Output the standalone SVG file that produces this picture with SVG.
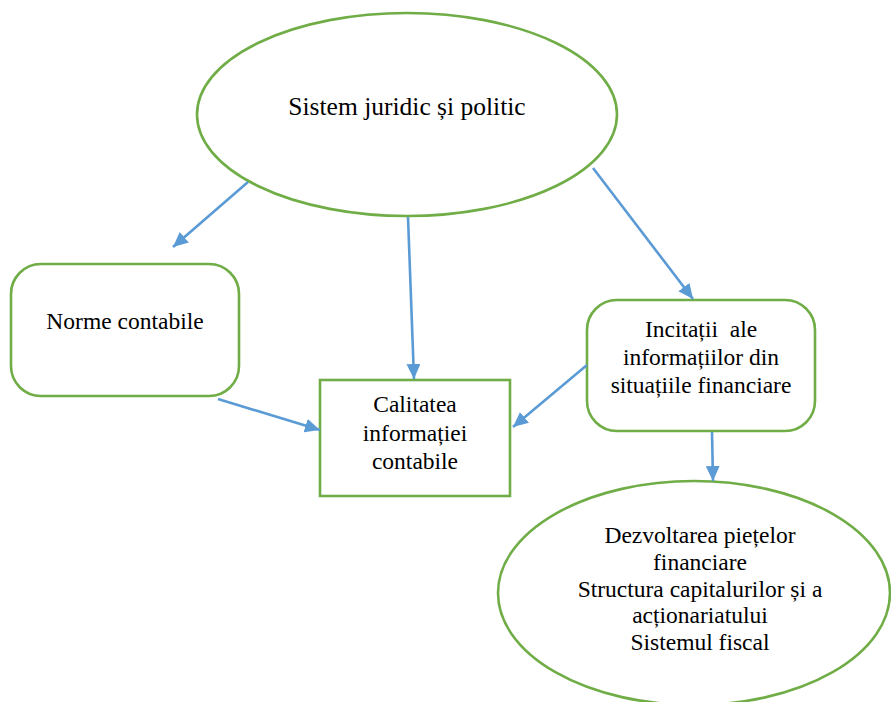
<svg xmlns="http://www.w3.org/2000/svg" width="891" height="702" viewBox="0 0 891 702">
<style>
.node{fill:#fff;stroke:#70AD47;stroke-width:2.6}
.lbl{font-family:"Liberation Serif","Times New Roman",serif;font-size:23.5px;fill:#000;text-anchor:middle}
.big{font-size:25.5px}
.conn{stroke:#5B9BD5;stroke-width:2.6;fill:none;marker-end:url(#ah)}
</style>
<defs>
<marker id="ah" markerUnits="userSpaceOnUse" markerWidth="16" markerHeight="14" refX="15" refY="7" orient="auto">
<path d="M0,0 L15,7 L0,14 Z" fill="#5B9BD5"/>
</marker>
</defs>
<rect width="891" height="702" fill="#fff"/>
<g id="n-sistem">
<ellipse class="node" cx="407" cy="114.5" rx="210" ry="101.5"/>
<text class="lbl big" x="407" y="115">Sistem juridic și politic</text>
</g>
<g id="n-norme">
<rect class="node" x="11" y="264" width="228" height="132" rx="30" ry="30"/>
<text class="lbl" x="125" y="329">Norme contabile</text>
</g>
<g id="n-calitatea">
<rect class="node" x="320" y="380" width="190" height="116"/>
<text class="lbl" x="415" y="412">Calitatea</text>
<text class="lbl" x="415" y="441">informației</text>
<text class="lbl" x="415" y="469">contabile</text>
</g>
<g id="n-incitatii">
<rect class="node" x="587" y="300" width="228" height="131" rx="30" ry="30"/>
<text class="lbl" x="701" y="337" xml:space="preserve">Incitații  ale</text>
<text class="lbl" x="701" y="365">informațiilor din</text>
<text class="lbl" x="701" y="393">situațiile financiare</text>
</g>
<g id="n-dezvoltarea">
<ellipse class="node" cx="694" cy="593" rx="196" ry="112"/>
<text class="lbl" x="700" y="543">Dezvoltarea piețelor</text>
<text class="lbl" x="700" y="570">financiare</text>
<text class="lbl" x="700" y="597">Structura capitalurilor și a</text>
<text class="lbl" x="700" y="623">acționariatului</text>
<text class="lbl" x="700" y="650">Sistemul fiscal</text>
</g>
<g id="connectors">
<line class="conn" x1="248" y1="182" x2="173" y2="247"/>
<line class="conn" x1="408" y1="217" x2="414" y2="379"/>
<line class="conn" x1="593" y1="168" x2="693" y2="299"/>
<line class="conn" x1="587" y1="365" x2="513" y2="427"/>
<line class="conn" x1="218" y1="399" x2="320" y2="430"/>
<line class="conn" x1="712" y1="432" x2="713" y2="481"/>
</g>
</svg>
